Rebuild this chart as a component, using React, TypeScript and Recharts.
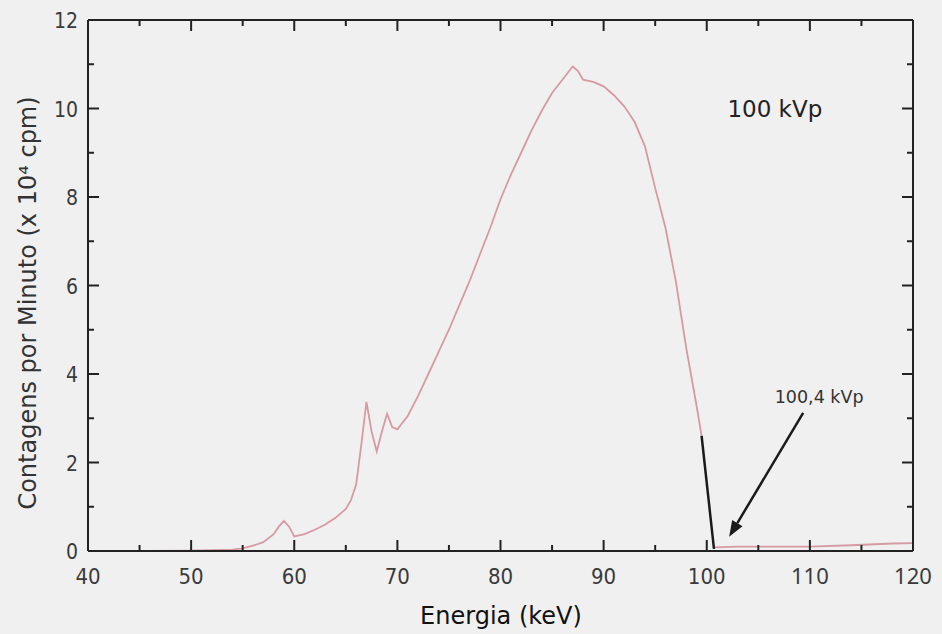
import { LineChart, Line, XAxis, YAxis, ReferenceDot, ReferenceLine } from "recharts";

// spectrum, 100 kVp
const energy = [46, 50, 54, 55, 56, 57, 58, 58.5, 59, 59.5, 60, 61, 62, 63, 64, 65, 65.5, 66, 66.5, 67, 67.5, 68, 68.5, 69, 69.5, 70, 71, 72, 73, 74, 75, 76, 77, 78, 79, 80, 81, 82, 83, 84, 85, 86, 87, 87.5, 88, 89, 90, 91, 92, 93, 94, 95, 96, 97, 98, 99, 99.5];
const counts = [0, 0.01, 0.03, 0.06, 0.12, 0.2, 0.38, 0.55, 0.68, 0.55, 0.33, 0.38, 0.48, 0.6, 0.75, 0.95, 1.15, 1.5, 2.4, 3.37, 2.7, 2.25, 2.7, 3.1, 2.8, 2.75, 3.05, 3.5, 4.0, 4.5, 5.0, 5.55, 6.1, 6.7, 7.3, 7.95, 8.5, 9.0, 9.5, 9.95, 10.35, 10.65, 10.95, 10.85, 10.65, 10.6, 10.5, 10.3, 10.05, 9.7, 9.15, 8.2, 7.3, 6.1, 4.6, 3.3, 2.6];

// tail after the cut-off
const tailEnergy = [100.7, 103, 106, 110, 114, 118, 120];
const tailCounts = [0.08, 0.1, 0.1, 0.1, 0.13, 0.17, 0.18];

// cut-off segment (black)
const cutEnergy = [99.5, 100.7];
const cutCounts = [2.6, 0.05];

const xTicks = [40, 45, 50, 55, 60, 65, 70, 75, 80, 85, 90, 95, 100, 105, 110, 115, 120];
const yTicks = [0, 1, 2, 3, 4, 5, 6, 7, 8, 9, 10, 11, 12];

const mainData = energy.map((e, i) => ({ e, v: counts[i] }));
const tailData = tailEnergy.map((e, i) => ({ e, v: tailCounts[i] }));
const cutData = cutEnergy.map((e, i) => ({ e, v: cutCounts[i] }));

const AXIS = "#222";
const TXT = "#3a3a3a";

const bottomTick = (p: any) => {
  const v = p.payload.value;
  const major = v % 10 === 0;
  return (
    <g key={"b" + v}>
      <path d={`M${p.x},551 L${p.x},${551 - (major ? 11 : 6)}`} stroke={AXIS} strokeWidth={2} fill="none" />
      {major && (
        <text
          x={p.x}
          y={584}
          textAnchor="middle"
          fill={TXT}
          fontSize={22}
          fontFamily={v >= 110 ? "Noto Sans" : "DejaVu Sans Condensed"}
        >
          {v}
        </text>
      )}
    </g>
  );
};

const topTick = (p: any) => {
  const major = p.payload.value % 10 === 0;
  return (
    <path key={"t" + p.payload.value} d={`M${p.x},20 L${p.x},${20 + (major ? 11 : 6)}`} stroke={AXIS} strokeWidth={2} fill="none" />
  );
};

const leftTick = (p: any) => {
  const v = p.payload.value;
  const major = v % 2 === 0;
  return (
    <g key={"l" + v}>
      <path d={`M88,${p.y} L${88 + (major ? 11 : 6)},${p.y}`} stroke={AXIS} strokeWidth={2} fill="none" />
      {major && (
        <text x={78} y={p.y + 8} textAnchor="end" fill={TXT} fontSize={21} fontFamily="DejaVu Sans Condensed">
          {v}
        </text>
      )}
    </g>
  );
};

const rightTick = (p: any) => {
  const major = p.payload.value % 2 === 0;
  return (
    <path key={"r" + p.payload.value} d={`M913,${p.y} L${913 - (major ? 11 : 6)},${p.y}`} stroke={AXIS} strokeWidth={2} fill="none" />
  );
};

const Arrow = (p: any) => {
  const { x1, y1, x2, y2 } = p;
  const ang = Math.atan2(y2 - y1, x2 - x1);
  const len = 16;
  const w = 6;
  const bx = x2 - len * Math.cos(ang);
  const by = y2 - len * Math.sin(ang);
  const px = -Math.sin(ang) * w;
  const py = Math.cos(ang) * w;
  return (
    <g>
      <line x1={x1} y1={y1} x2={bx} y2={by} stroke="#1a1a1a" strokeWidth={2.5} />
      <polygon points={`${x2},${y2} ${bx + px},${by + py} ${bx - px},${by - py}`} fill="#1a1a1a" />
    </g>
  );
};

export default function App() {
  return (
    <div style={{ position: "absolute", left: 0, top: 0, width: 942, height: 634, background: "#f0f0f0" }}>
      <LineChart width={942} height={634} margin={{ top: 19, right: 28, left: 0, bottom: 0 }}>
        <XAxis
          xAxisId="b"
          dataKey="e"
          type="number"
          domain={[40, 120]}
          ticks={xTicks}
          interval={0}
          allowDataOverflow
          height={83}
          tickSize={0}
          tickMargin={0}
          tickLine={false}
          axisLine={{ stroke: AXIS, strokeWidth: 2 }}
          tick={bottomTick}
          label={{
            content: () => (
              <text x={501} y={624} textAnchor="middle" fill="#111" fontSize={24} fontFamily="DejaVu Sans">
                Energia (keV)
              </text>
            ),
          }}
        />
        <XAxis
          xAxisId="t"
          orientation="top"
          dataKey="e"
          type="number"
          domain={[40, 120]}
          ticks={xTicks}
          interval={0}
          allowDataOverflow
          height={1}
          tickSize={0}
          tickMargin={0}
          tickLine={false}
          axisLine={{ stroke: AXIS, strokeWidth: 2 }}
          tick={topTick}
        />
        <YAxis
          yAxisId="l"
          type="number"
          domain={[0, 12]}
          ticks={yTicks}
          interval={0}
          allowDataOverflow
          width={88}
          tickSize={0}
          tickMargin={0}
          tickLine={false}
          axisLine={{ stroke: AXIS, strokeWidth: 2 }}
          tick={leftTick}
          label={{
            content: () => (
              <text
                x={28}
                y={303}
                transform="rotate(-90 28 303)"
                textAnchor="middle"
                dominantBaseline="central"
                fill="#333"
                fontSize={24}
                fontFamily="DejaVu Sans"
              >
                Contagens por Minuto (x 10⁴ cpm)
              </text>
            ),
          }}
        />
        <YAxis
          yAxisId="r"
          orientation="right"
          type="number"
          domain={[0, 12]}
          ticks={yTicks}
          interval={0}
          allowDataOverflow
          width={1}
          tickSize={0}
          tickMargin={0}
          tickLine={false}
          axisLine={{ stroke: AXIS, strokeWidth: 2 }}
          tick={rightTick}
        />
        <Line
          xAxisId="t"
          yAxisId="r"
          data={mainData}
          dataKey="v"
          stroke="transparent"
          dot={false}
          activeDot={false}
          isAnimationActive={false}
        />
        <Line
          xAxisId="b"
          yAxisId="l"
          data={mainData}
          dataKey="v"
          type="linear"
          stroke="#d69aa4"
          strokeWidth={1.8}
          dot={false}
          activeDot={false}
          isAnimationActive={false}
        />
        <Line
          xAxisId="b"
          yAxisId="l"
          data={tailData}
          dataKey="v"
          type="linear"
          stroke="#d69aa4"
          strokeWidth={1.8}
          dot={false}
          activeDot={false}
          isAnimationActive={false}
        />
        <Line
          xAxisId="b"
          yAxisId="l"
          data={cutData}
          dataKey="v"
          type="linear"
          stroke="#1a1a1a"
          strokeWidth={2.5}
          dot={false}
          activeDot={false}
          isAnimationActive={false}
        />
        <ReferenceLine
          xAxisId="b"
          yAxisId="l"
          segment={[
            { x: 109.35, y: 3.12 },
            { x: 102.17, y: 0.32 },
          ]}
          shape={<Arrow />}
        />
        <ReferenceDot
          xAxisId="b"
          yAxisId="l"
          x={106.6}
          y={10.0}
          r={0}
          shape={(p: any) => (
            <text x={p.cx} y={p.cy} textAnchor="middle" dominantBaseline="central" fill="#222" fontSize={23} fontFamily="DejaVu Sans">
              100 kVp
            </text>
          )}
        />
        <ReferenceDot
          xAxisId="b"
          yAxisId="l"
          x={110.9}
          y={3.48}
          r={0}
          shape={(p: any) => (
            <text x={p.cx} y={p.cy} textAnchor="middle" dominantBaseline="central" fill="#333" fontSize={17.5} fontFamily="DejaVu Sans">
              100,4 kVp
            </text>
          )}
        />
      </LineChart>
    </div>
  );
}
